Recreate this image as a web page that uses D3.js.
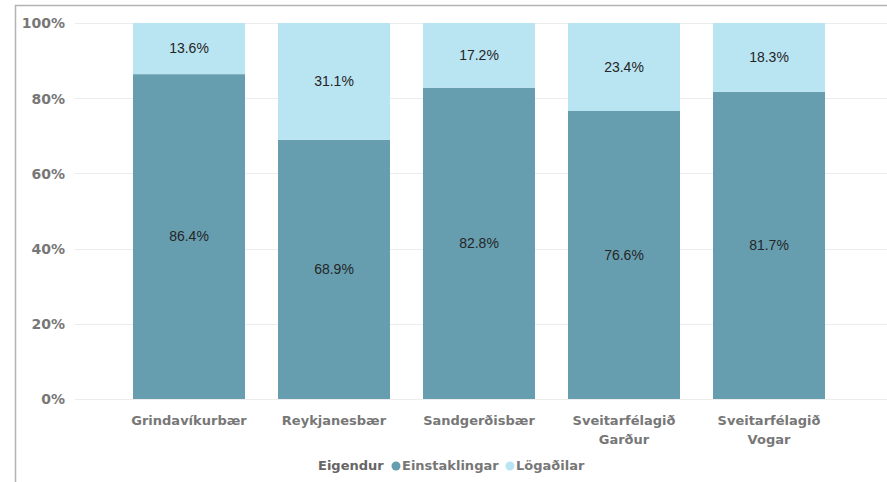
<!DOCTYPE html>
<html><head><meta charset="utf-8">
<script src="https://cdn.jsdelivr.net/npm/d3@7"></script>
<style>html,body{margin:0;padding:0;background:#fff;}svg{display:block;}</style>
</head><body>
<svg id="chart" width="887" height="482"></svg>
<script>
const categories = [["Grindavíkurbær"],["Reykjanesbær"],["Sandgerðisbær"],["Sveitarfélagið","Garður"],["Sveitarfélagið","Vogar"]];
const catKeys = ["Grindavíkurbær","Reykjanesbær","Sandgerðisbær","Sveitarfélagið Garður","Sveitarfélagið Vogar"];
const einstaklingar = [86.4, 68.9, 82.8, 76.6, 81.7];
const logadilar = [13.6, 31.1, 17.2, 23.4, 18.3];
const seriesNames = ["Einstaklingar","Lögaðilar"];
const yTicks = [0,20,40,60,80,100];
const legendTitle = "Eigendur";

const colors = ["#669eb0","#b9e4f2"];
const svg = d3.select("#chart");
const y = d3.scaleLinear().domain([0,100]).range([399,23]);
const x = d3.scaleBand().domain(catKeys).range([116.5,841.5]).paddingInner(0.2276).paddingOuter(0.1138);

// frame
svg.append("line").attr("x1",15).attr("x2",887).attr("y1",5.5).attr("y2",5.5).attr("stroke","#b3b3b3").attr("stroke-width",1.5);
svg.append("line").attr("x1",15.5).attr("x2",15.5).attr("y1",5).attr("y2",482).attr("stroke","#b3b3b3").attr("stroke-width",1.5);

// grid
svg.append("g").selectAll("line").data(yTicks).join("line")
  .attr("x1",75).attr("x2",887).attr("y1",d=>Math.round(y(d))+0.5).attr("y2",d=>Math.round(y(d))+0.5)
  .attr("stroke","#ececec").attr("stroke-width",1);

// y axis labels
const yAxis = d3.axisLeft(y).tickValues(yTicks).tickFormat(d=>d+"%").tickSize(0).tickPadding(0);
const ya = svg.append("g").attr("transform","translate(65,0)").call(yAxis);
ya.select(".domain").remove();
ya.selectAll("text").attr("font-family","DejaVu Sans").attr("font-weight","bold").attr("font-size","14px").attr("fill","#777").attr("dy","0.35em");

// stacked data
const rows = catKeys.map((k,i)=>({key:k, Einstaklingar:einstaklingar[i], "Lögaðilar":logadilar[i]}));
const stack = d3.stack().keys(seriesNames)(rows);
const g = svg.append("g");
stack.forEach((s,si)=>{
  g.selectAll(null).data(s).join("rect")
    .attr("x",d=>x(d.data.key)).attr("width",x.bandwidth())
    .attr("y",d=>y(d[1])).attr("height",d=>y(d[0])-y(d[1]))
    .attr("fill",colors[si]);
  g.selectAll(null).data(s).join("text")
    .attr("x",d=>x(d.data.key)+x.bandwidth()/2)
    .attr("y",d=>(y(d[0])+y(d[1]))/2).attr("dy","0.35em")
    .attr("text-anchor","middle").attr("font-family","Liberation Sans, Arial").attr("font-size","14px").attr("fill","#252525")
    .text(d=>(d[1]-d[0]).toFixed(1)+"%");
});

// x labels
const xl = svg.append("g");
catKeys.forEach((k,i)=>{
  const t = xl.append("text").attr("x",x(k)+x.bandwidth()/2).attr("y",425)
    .attr("text-anchor","middle").attr("font-family","DejaVu Sans").attr("font-weight","bold").attr("font-size","13px").attr("fill","#777");
  categories[i].forEach((line,j)=>{
    t.append("tspan").attr("x",x(k)+x.bandwidth()/2).attr("dy", j===0?0:19).text(line);
  });
});

// legend
const lg = svg.append("g").attr("font-family","DejaVu Sans").attr("font-weight","bold").attr("font-size","13px");
lg.append("text").attr("x",318).attr("y",470).attr("fill","#666").text(legendTitle);
const lx = [396, 510];
seriesNames.forEach((n,i)=>{
  lg.append("circle").attr("cx",lx[i]).attr("cy",466).attr("r",4.5).attr("fill",colors[i]);
  lg.append("text").attr("x",lx[i]+6).attr("y",470).attr("fill","#777").text(n);
});
</script>
</body></html>
